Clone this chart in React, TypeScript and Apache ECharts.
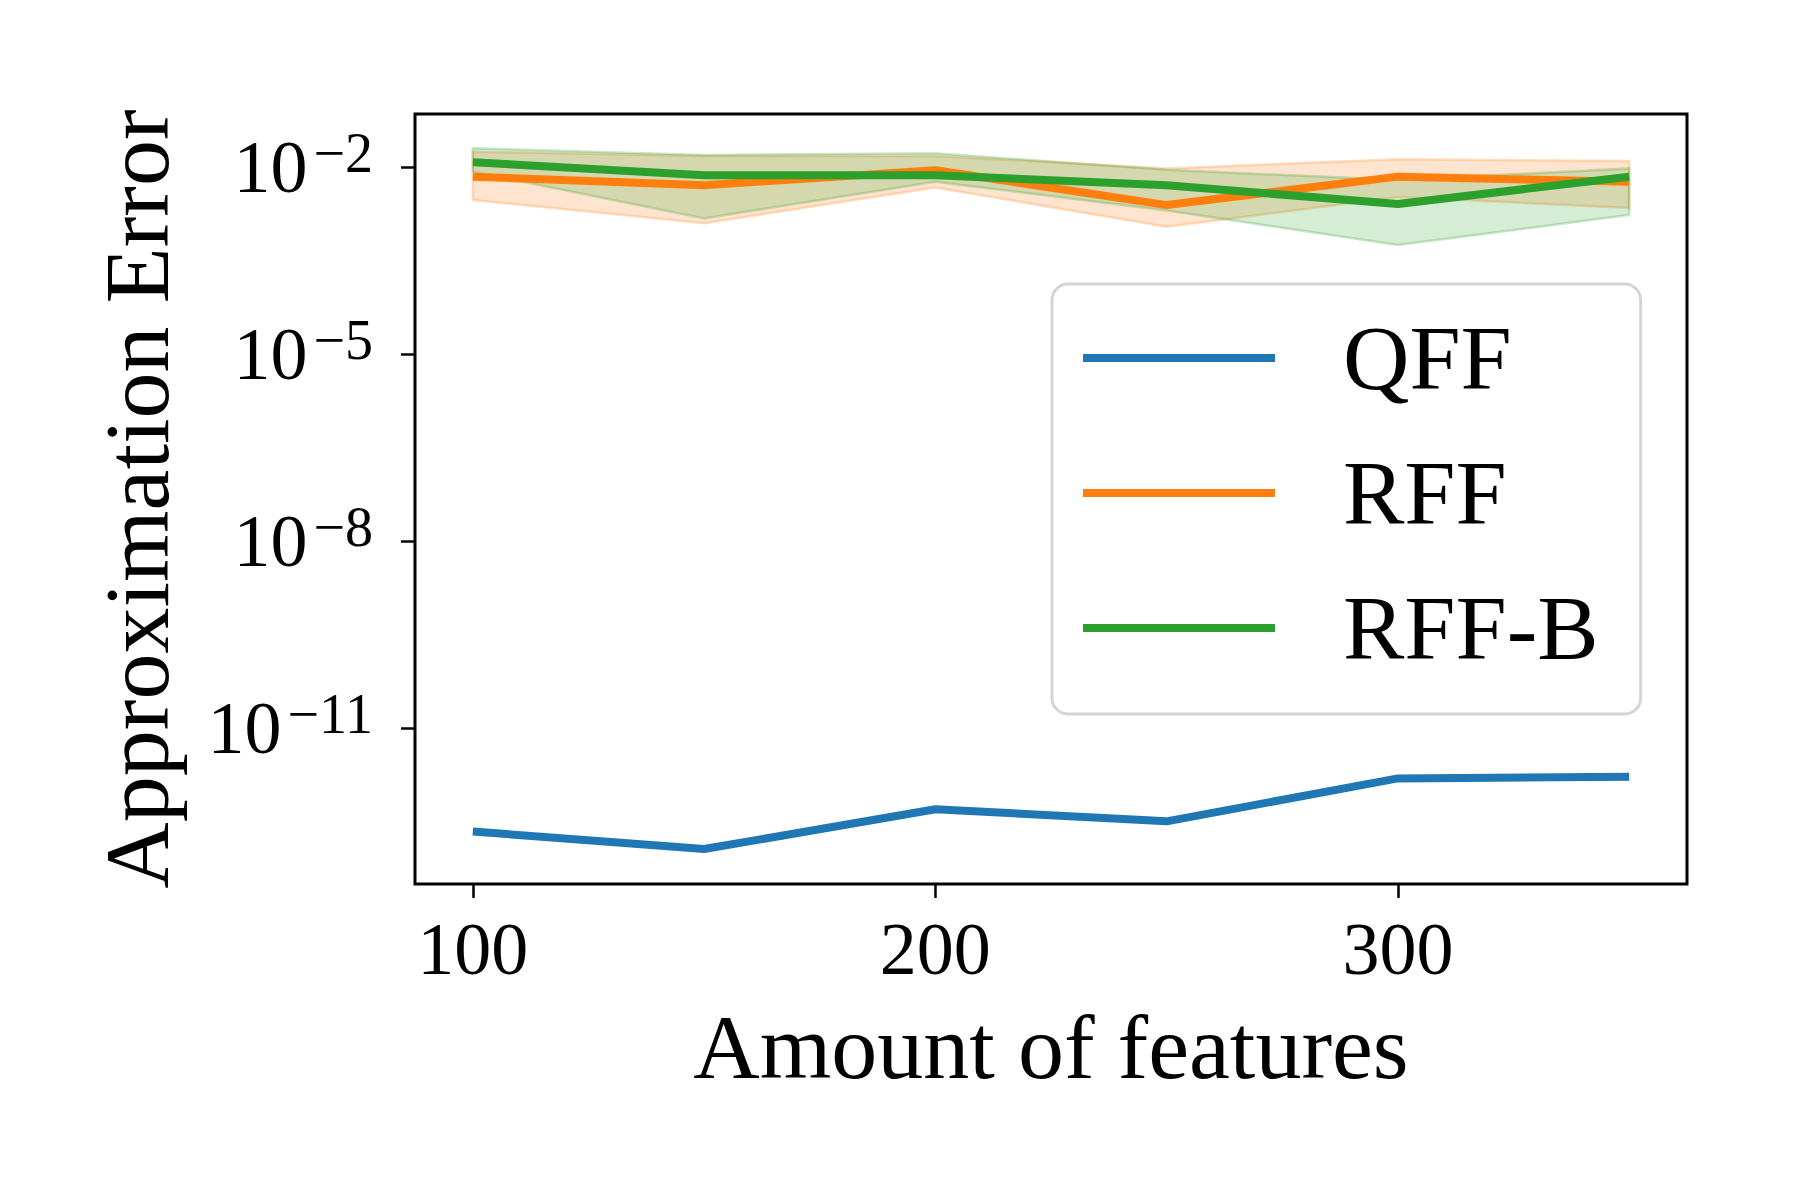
import React, { useEffect, useRef } from "react";
import * as echarts from "echarts";

const features = [100, 150, 200, 250, 300, 350];
const qff = [2.2e-13, 1.15e-13, 5.0e-13, 3.2e-13, 1.56e-12, 1.66e-12];
const rff = [7.0e-3, 5.1e-3, 8.9e-3, 2.45e-3, 7.0e-3, 5.8e-3];
const rffLow = [2.95e-3, 1.25e-3, 4.7e-3, 1.1e-3, 3.3e-3, 2.2e-3];
const rffHigh = [1.76e-2, 1.5e-2, 1.5e-2, 9.5e-3, 1.33e-2, 1.25e-2];
const rffb = [1.19e-2, 7.4e-3, 7.4e-3, 5.1e-3, 2.55e-3, 7.0e-3];
const rffbLow = [8.4e-3, 1.5e-3, 5.8e-3, 2.0e-3, 5.6e-4, 1.7e-3];
const rffbHigh = [2.0e-2, 1.56e-2, 1.66e-2, 9.0e-3, 6.2e-3, 9.5e-3];
const xTicks = [100, 200, 300];
const yTickExps = [-11, -8, -5, -2];
const legendNames = ["QFF", "RFF", "RFF-B"];

const FONT = "Liberation Serif";
const BLUE = "#1f77b4";
const ORANGE = "#ff7f0e";
const GREEN = "#2ca02c";

const toLog = (a: number[]) => a.map((v, i) => [features[i], Math.log10(v)]);

function band(lo: number[], hi: number[], rgb: string) {
  const data = features.map((x, i) => [x, Math.log10(lo[i]), Math.log10(hi[i])]);
  return {
    type: "custom",
    coordinateSystem: "cartesian2d",
    silent: true,
    z: 1,
    encode: { x: 0, y: [1, 2] },
    data,
    renderItem: (params: any, api: any) => {
      if (params.dataIndex !== 0) return null;
      const upper = data.map((d) => api.coord([d[0], d[2]]));
      const lower = data.map((d) => api.coord([d[0], d[1]]));
      const poly = upper.concat(lower.slice().reverse());
      return {
        type: "group",
        children: [
          {
            type: "polygon",
            shape: { points: poly },
            style: {
              fill: `rgba(${rgb},0.2)`,
              stroke: `rgba(${rgb},0.25)`,
              lineWidth: 2.5,
            },
          },
        ],
      };
    },
  };
}

function mainLine(name: string, values: number[], color: string) {
  return {
    type: "line",
    name,
    data: toLog(values),
    symbol: "none",
    z: 3,
    color,
    itemStyle: { color },
    lineStyle: { color, width: 8 },
  };
}

export default function App() {
  const ref = useRef<HTMLDivElement>(null);
  useEffect(() => {
    if (!ref.current) return;
    const chart = echarts.init(ref.current, null, { renderer: "svg" });
    chart.setOption({
      animation: false,
      backgroundColor: "#ffffff",
      grid: {
        left: 415,
        top: 114,
        width: 1272,
        height: 770,
        show: true,
        borderColor: "#000",
        borderWidth: 3,
        backgroundColor: "transparent",
      },
      legend: {
        data: legendNames,
        orient: "vertical",
        left: 1052,
        top: 284,
        padding: [24, 42, 36, 31],
        itemWidth: 192,
        itemHeight: 8,
        itemGap: 35,
        icon: "rect",
        backgroundColor: "rgba(255,255,255,0.8)",
        borderColor: "#d4d4d4",
        borderWidth: 3,
        borderRadius: 16,
        selectedMode: false,
        textStyle: {
          fontFamily: FONT,
          fontSize: 92,
          color: "#000",
          lineHeight: 100,
          padding: [0, 0, 0, 63],
        },
      },
      xAxis: {
        type: "value",
        min: 87.5,
        max: 362.5,
        name: "Amount of features",
        nameLocation: "middle",
        nameGap: 117,
        nameTextStyle: { fontFamily: FONT, fontSize: 92, color: "#000" },
        axisLine: { show: false },
        splitLine: { show: false },
        axisTick: {
          show: true,
          length: 14,
          customValues: xTicks,
          lineStyle: { color: "#000", width: 2.5 },
        },
        axisLabel: {
          customValues: xTicks,
          margin: 28,
          fontFamily: FONT,
          fontSize: 74,
          color: "#000",
        },
      },
      yAxis: {
        type: "value",
        min: -13.5,
        max: -1.15,
        name: "Approximation Error",
        nameLocation: "middle",
        nameRotate: 90,
        nameGap: 232,
        nameTextStyle: { fontFamily: FONT, fontSize: 92, color: "#000" },
        axisLine: { show: false },
        splitLine: { show: false },
        axisTick: {
          show: true,
          length: 14,
          customValues: yTickExps,
          lineStyle: { color: "#000", width: 2.5 },
        },
        axisLabel: {
          customValues: yTickExps,
          margin: 42,
          formatter: (v: number) => `{b|10}{s|\u2212${Math.round(-v)}}`,
          rich: {
            b: { fontFamily: FONT, fontSize: 74, color: "#000", lineHeight: 84 },
            s: {
              fontFamily: FONT,
              fontSize: 56,
              color: "#000",
              lineHeight: 56,
              verticalAlign: "top",
              padding: [0, 0, 0, 6],
            },
          },
        },
      },
      series: [
        mainLine("QFF", qff, BLUE),
        band(rffLow, rffHigh, "255,127,14"),
        band(rffbLow, rffbHigh, "44,160,44"),
        mainLine("RFF", rff, ORANGE),
        mainLine("RFF-B", rffb, GREEN),
      ],
    });
    return () => chart.dispose();
  }, []);
  return (
    <div
      ref={ref}
      style={{ position: "absolute", left: 0, top: 0, width: 1800, height: 1200 }}
    />
  );
}
